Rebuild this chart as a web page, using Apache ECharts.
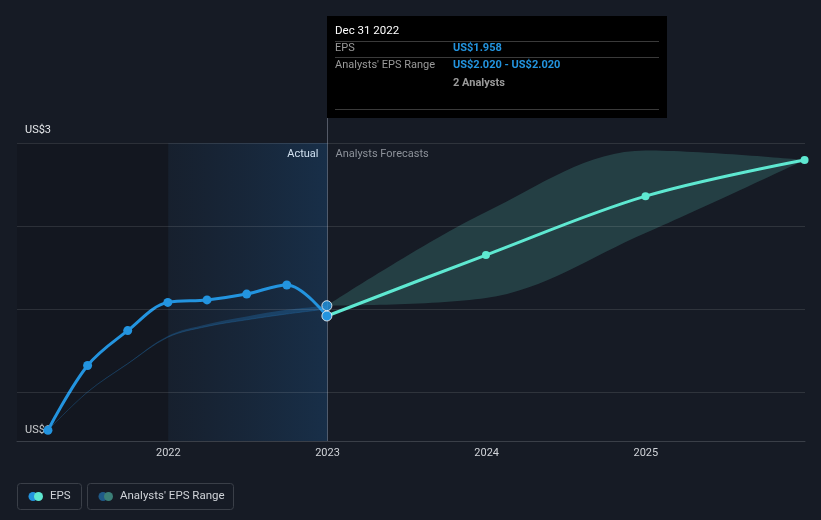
<!DOCTYPE html>
<html><head><meta charset="utf-8">
<script src="https://cdn.jsdelivr.net/npm/echarts@6/dist/echarts.min.js"></script>
<style>html,body{margin:0;padding:0;background:#161b25;}#c{width:821px;height:520px;}</style>
</head><body><div id="c"></div>
<script>
// ---- data ----
const actualDates = ['2021-03-31', '2021-06-30', '2021-09-30', '2021-12-31', '2022-03-31', '2022-06-30', '2022-09-30', '2022-12-31'];
const epsActual = [1.27, 1.66, 1.87, 2.04, 2.055, 2.09, 2.145, 1.958];
const histRangeLow = [1.27, 1.50, 1.67, 1.83, 1.895, 1.935, 1.97, 2.0];
const histRangeHigh = [1.27, 1.502, 1.673, 1.838, 1.908, 1.955, 1.995, 2.02];
const forecastDates = ['2022-12-31', '2023-12-31', '2024-12-31', '2025-12-31'];
const epsForecast = [1.958, 2.325, 2.68, 2.898];
const rangeLow = [2.02, 2.066, 2.458, 2.898];
const rangeHigh = [2.02, 2.584, 2.955, 2.898];
const yGridValues = [1.5, 2.0, 2.5, 3.0];
const xTickYears = [2022, 2023, 2024, 2025];
const yLabelTop = 'US$3', yLabelBottom = 'US$1';
const xMinDate = '2021-01-19', xMaxDate = '2026-01-01', yMin = 1.205, yMax = 3.0;

const ts = d => new Date(d + 'T00:00:00Z').getTime();
const zip = (xs, ys) => xs.map((x, i) => [ts(x), ys[i]]);
const diff = (lo, hi) => lo.map((v, i) => +(hi[i] - v).toFixed(4));
const xMin = ts(xMinDate), xMax = ts(xMaxDate);
const toYear = t => { const d = new Date(t); const y = d.getUTCFullYear();
  const a = Date.UTC(y, 0, 1), b = Date.UTC(y + 1, 0, 1); return y + (t - a) / (b - a); };
const yr = y => ts(y + '-01-01');

const BLUE = '#2394df', TEAL = '#5ee8d1';
const FONT = 'Roboto, "Noto Sans", sans-serif';
const SM = 0.35;

const chart = echarts.init(document.getElementById('c'), null, {renderer: 'canvas'});
const option = {
  backgroundColor: '#161b25',
  animation: false,
  grid: {left: 17, right: 16, top: 143, bottom: 79},
  xAxis: [{
    type: 'time', min: xMin, max: xMax,
    axisLine: {show: true, lineStyle: {color: '#3a3f48', width: 1}},
    axisTick: {show: false}, splitLine: {show: false}, axisLabel: {show: false}
  }, {
    type: 'value', min: toYear(xMin), max: toYear(xMax), position: 'bottom',
    axisLine: {show: false}, axisTick: {show: false}, splitLine: {show: false},
    axisLabel: {customValues: xTickYears, color: '#d0d3d8', fontSize: 11, fontFamily: FONT, margin: 7,
      formatter: v => String(Math.round(v))}
  }],
  yAxis: {
    type: 'value', min: yMin, max: yMax,
    axisLine: {show: false}, axisTick: {show: false}, axisLabel: {show: false}, splitLine: {show: false}
  },
  series: [
    { // background shading + gridlines
      type: 'line', data: [], silent: true,
      markArea: {silent: true, data: [
        [{xAxis: xMin, itemStyle: {color: 'rgba(0,0,0,0.13)'}}, {xAxis: yr(xTickYears[0])}],
        [{xAxis: yr(xTickYears[0]), itemStyle: {color: {type: 'linear', x: 0, y: 0, x2: 1, y2: 0,
          colorStops: [{offset: 0, color: 'rgba(30,90,150,0.08)'}, {offset: 1, color: 'rgba(30,110,185,0.24)'}]}}},
         {xAxis: yr(xTickYears[1])}]
      ]},
      markLine: {silent: true, symbol: 'none', label: {show: false},
        lineStyle: {color: 'rgba(255,255,255,0.11)', type: 'solid', width: 1},
        data: yGridValues.map(v => ({yAxis: v}))}
    },
    { // historical range lower
      type: 'line', stack: 'hist', data: zip(actualDates, histRangeLow), smooth: SM,
      symbol: 'none', lineStyle: {width: 1, color: 'rgba(35,110,170,0.35)'}, silent: true
    },
    {
      type: 'line', stack: 'hist', data: zip(actualDates, diff(histRangeLow, histRangeHigh)), smooth: SM,
      symbol: 'none', lineStyle: {width: 0}, silent: true,
      areaStyle: {color: 'rgba(35,120,190,0.45)'}
    },
    { // forecast range
      type: 'line', stack: 'fc', data: zip(forecastDates, rangeLow), smooth: SM,
      symbol: 'none', lineStyle: {width: 0}, silent: true
    },
    {
      type: 'line', stack: 'fc', data: zip(forecastDates, diff(rangeLow, rangeHigh)), smooth: SM,
      symbol: 'none', lineStyle: {width: 0}, silent: true,
      areaStyle: {color: 'rgba(90,200,185,0.30)'}
    },
    { // forecast EPS
      type: 'line', data: zip(forecastDates, epsForecast), smooth: SM,
      symbol: 'circle', symbolSize: 8, showAllSymbol: true,
      lineStyle: {color: TEAL, width: 3}, itemStyle: {color: TEAL}
    },
    { // actual EPS
      type: 'line', data: zip(actualDates, epsActual), smooth: SM,
      symbol: 'circle', symbolSize: 9,
      lineStyle: {color: BLUE, width: 3}, itemStyle: {color: BLUE}
    },
    { // highlighted points
      type: 'scatter',
      data: [[ts(actualDates[actualDates.length-1]), epsActual[epsActual.length-1]], [ts(forecastDates[0]), rangeHigh[0]]],
      symbolSize: 10, itemStyle: {color: BLUE, borderColor: '#ffffff', borderWidth: 1}, z: 10
    }
  ]
};
chart.setOption(option);

const pBottom = chart.convertToPixel({xAxisIndex: 0, yAxisIndex: 0}, [ts(forecastDates[0]), yMin]);
const pTop = chart.convertToPixel({xAxisIndex: 0, yAxisIndex: 0}, [xMin, yMax]);
const pLow = chart.convertToPixel({xAxisIndex: 0, yAxisIndex: 0}, [xMin, yMin]);
const vx = Math.round(pBottom[0]) + 0.5;

const txt = (x, y, s, color, size, weight, align) => ({
  type: 'text', x: x, y: y, silent: true,
  style: {text: s, fill: color, fontSize: size || 11, fontWeight: weight || 'normal', fontFamily: FONT,
    textAlign: align || 'left', textVerticalAlign: 'middle'}
});
const hline = (x1, x2, y, color) => ({type: 'line', silent: true, shape: {x1: x1, y1: y, x2: x2, y2: y},
  style: {stroke: color, lineWidth: 1}});

const tipX = vx - 0.5, tipY = 16;
const graphics = [
  {type: 'line', silent: true, shape: {x1: vx, y1: 118, x2: vx, y2: pBottom[1]},
    style: {stroke: 'rgba(200,210,225,0.35)', lineWidth: 1}},
  txt(pTop[0] + 8, pTop[1] - 13, yLabelTop, '#e6e8eb', 11),
  txt(pLow[0] + 8, 430, yLabelBottom, '#e6e8eb', 11),
  txt(vx - 9, 154, 'Actual', '#ffffff', 11, 'normal', 'right'),
  txt(vx + 8, 154, 'Analysts Forecasts', '#8d929a', 11),
  // tooltip box
  {type: 'rect', silent: true, shape: {x: tipX, y: tipY, width: 340, height: 102}, style: {fill: '#000000'}},
  txt(tipX + 8, 31, 'Dec 31 2022', '#ffffff', 11.5),
  hline(tipX + 8, tipX + 332, 41.5, '#3a3a3a'),
  txt(tipX + 8, 48.5, 'EPS', '#9a9a9a', 11),
  txt(tipX + 126, 48.5, 'US$1.958', BLUE, 11, 'bold'),
  hline(tipX + 8, tipX + 332, 57.5, '#3a3a3a'),
  txt(tipX + 8, 65.5, "Analysts' EPS Range", '#9a9a9a', 11),
  txt(tipX + 126, 65.5, 'US$2.020 - US$2.020', BLUE, 11, 'bold'),
  txt(tipX + 126, 83, '2 Analysts', '#9a9a9a', 11, 'bold'),
  hline(tipX + 8, tipX + 332, 109.5, '#3a3a3a'),
  // legend
  {type: 'rect', silent: true, shape: {x: 17.5, y: 483.5, width: 64, height: 26, r: 3},
    style: {fill: 'transparent', stroke: '#3a3f48', lineWidth: 1}},
  {type: 'circle', silent: true, shape: {cx: 33, cy: 496.5, r: 4.5}, style: {fill: BLUE}},
  {type: 'circle', silent: true, shape: {cx: 38.5, cy: 496.5, r: 4.5}, style: {fill: TEAL}},
  txt(50, 496.5, 'EPS', '#d0d3d8', 11.5),
  {type: 'rect', silent: true, shape: {x: 87.5, y: 483.5, width: 146, height: 26, r: 3},
    style: {fill: 'transparent', stroke: '#3a3f48', lineWidth: 1}},
  {type: 'circle', silent: true, shape: {cx: 103, cy: 496.5, r: 4.5}, style: {fill: '#1f5a88'}},
  {type: 'circle', silent: true, shape: {cx: 108.5, cy: 496.5, r: 4.5}, style: {fill: '#3b7f77'}},
  txt(120, 496.5, "Analysts' EPS Range", '#d0d3d8', 11.5)
];
chart.setOption({graphic: {elements: graphics}});
</script>
</body></html>
